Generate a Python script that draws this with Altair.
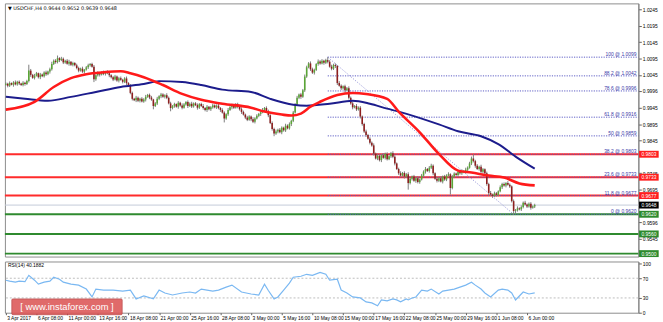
import altair as alt
import pandas as pd

# ---------------- data (prices in pips, 1 pip = 0.0001) ----------------
first_open = 10015
close_pips = [
    10018, 10012, 10020, 10015, 10022, 10016, 10024, 10019, 10014, 10021,
    10017, 10026, 10058, 10045, 10036, 10042, 10050, 10038, 10046, 10041,
    10052, 10047, 10055, 10062, 10078, 10088, 10084, 10096, 10090, 10094,
    10083, 10088, 10079, 10085, 10076, 10081, 10074, 10066, 10058, 10064,
    10055, 10061, 10068, 10074, 10078, 10070, 10032, 10044, 10050, 10046,
    10053, 10048, 10055, 10050, 10044, 10038, 10031, 10040, 10028, 10035,
    10030, 10024, 10034, 10020, 10012, 9990, 9972, 9968, 9975, 9966,
    9972, 9964, 9970, 9978, 9984, 9976, 9970, 9950, 9958, 9972,
    9980, 9985, 9978, 9983, 9975, 9958, 9944, 9950, 9956, 9948,
    9960, 9952, 9945, 9955, 9962, 9950, 9957, 9949, 9958, 9953,
    9945, 9956, 9950, 9944, 9938, 9948, 9940, 9946, 9952, 9946,
    9951, 9944, 9938, 9930, 9912, 9925, 9938, 9946, 9952, 9945,
    9955, 9948, 9940, 9932, 9924, 9915, 9908, 9918, 9910, 9902,
    9912, 9920, 9926, 9931, 9938, 9944, 9935, 9922, 9898, 9880,
    9866, 9872, 9878, 9870, 9884, 9876, 9890, 9882, 9895, 9905,
    9930, 9955, 9975, 9985, 9978, 9998, 10040, 10068, 10080, 10062,
    10052, 10060, 10078, 10086, 10080, 10088, 10082, 10090, 10085, 10070,
    10064, 10075, 10072, 10020, 10012, 10004, 10010, 9998, 10004, 9975,
    9958, 9946, 9950, 9940, 9945, 9918, 9895, 9872, 9862, 9850,
    9838, 9830, 9805, 9790, 9798, 9785, 9800, 9792, 9804, 9788,
    9797, 9806, 9795, 9775, 9758, 9745, 9738, 9746, 9735, 9742,
    9715, 9728, 9735, 9722, 9730, 9718, 9726, 9738, 9750, 9758,
    9752, 9762, 9768, 9745, 9728, 9722, 9730, 9720, 9735, 9726,
    9738, 9742, 9700, 9735, 9744, 9740, 9750, 9745, 9752, 9748,
    9756, 9762, 9775, 9790, 9782, 9768, 9758, 9765, 9750, 9757,
    9745, 9712, 9685, 9680, 9676, 9684, 9679, 9690, 9702, 9712,
    9708, 9715, 9710, 9705, 9660, 9630, 9632, 9638, 9635, 9642,
    9655, 9650, 9644, 9652, 9640, 9644, 9648,
]
upper_wick = [
    4, 3, 5, 2, 4, 6, 3, 4, 2, 5,
    3, 4, 18, 5, 3, 6, 4, 2, 5, 3,
    4, 6, 3, 5, 7, 4, 5, 8, 3, 6,
    4, 3, 5, 6, 2, 4, 3, 5, 4, 3,
    6, 2, 4, 5, 3, 4, 5, 3, 6, 4,
    3, 5, 2, 4, 6, 3, 4, 5, 3, 4,
    5, 3, 4, 6, 3, 5, 4, 3, 6, 4,
    3, 5, 4, 6, 3, 4, 5, 2, 4, 6,
    3, 5, 4, 3, 6, 4, 5, 3, 4, 2,
    5, 3, 6, 4, 3, 5, 4, 6, 3, 4,
    5, 3, 4, 6, 3, 5, 2, 4, 5, 3,
    4, 6, 3, 5, 4, 3, 6, 4, 5, 3,
    4, 5, 3, 6, 4, 3, 5, 4, 3, 6,
    4, 5, 3, 4, 6, 3, 5, 4, 3, 5,
    4, 6, 3, 5, 4, 3, 6, 4, 5, 3,
    5, 4, 6, 3, 5, 4, 6, 5, 4, 6,
    5, 4, 3, 6, 4, 5, 3, 4, 9, 5,
    6, 4, 5, 3, 6, 4, 3, 5, 4, 6,
    4, 5, 3, 6, 4, 5, 3, 4, 6, 3,
    5, 4, 6, 3, 5, 4, 3, 6, 4, 5,
    3, 4, 6, 5, 3, 4, 6, 3, 5, 4,
    6, 4, 3, 5, 4, 6, 3, 5, 4, 6,
    3, 5, 6, 4, 3, 5, 4, 6, 3, 5,
    4, 6, 3, 5, 4, 3, 6, 4, 5, 3,
    6, 4, 5, 6, 13, 4, 5, 3, 6, 4,
    3, 5, 4, 6, 3, 5, 4, 3, 6, 4,
    5, 3, 6, 4, 3, 5, 4, 6, 3, 5,
    4, 6, 3, 4, 5, 3, 4,
]
lower_wick = [
    3, 5, 4, 2, 6, 3, 4, 5, 3, 4,
    5, 3, 4, 6, 3, 5, 2, 4, 6, 3,
    4, 5, 3, 6, 4, 3, 5, 4, 6, 3,
    5, 4, 3, 6, 4, 5, 3, 4, 5, 3,
    4, 6, 3, 5, 4, 3, 9, 5, 4, 6,
    3, 4, 5, 3, 6, 4, 5, 3, 4, 6,
    3, 5, 4, 6, 3, 4, 5, 3, 6, 4,
    5, 3, 4, 6, 3, 5, 4, 10, 3, 5,
    4, 6, 3, 5, 4, 3, 10, 4, 5, 3,
    6, 4, 5, 3, 4, 6, 3, 5, 4, 3,
    6, 4, 3, 5, 4, 6, 3, 5, 4, 3,
    5, 4, 6, 3, 12, 4, 5, 3, 6, 4,
    3, 5, 4, 6, 3, 5, 4, 3, 6, 4,
    5, 3, 4, 6, 3, 5, 4, 6, 3, 5,
    8, 4, 5, 3, 6, 4, 5, 3, 4, 6,
    4, 3, 5, 4, 6, 3, 5, 4, 3, 5,
    4, 6, 3, 5, 4, 3, 6, 4, 5, 3,
    5, 4, 6, 6, 3, 5, 4, 6, 3, 5,
    4, 6, 3, 5, 4, 6, 5, 4, 6, 3,
    5, 4, 6, 3, 5, 4, 6, 3, 5, 4,
    3, 5, 4, 6, 3, 5, 4, 3, 6, 4,
    20, 4, 5, 3, 6, 4, 5, 3, 4, 6,
    3, 5, 4, 6, 3, 5, 4, 3, 6, 4,
    5, 3, 20, 4, 5, 3, 6, 4, 5, 3,
    4, 6, 3, 5, 4, 6, 3, 5, 4, 6,
    3, 5, 8, 4, 6, 3, 5, 4, 3, 5,
    4, 6, 3, 5, 4, 10, 6, 4, 3, 5,
    4, 3, 5, 4, 6, 3, 5,
]

# moving averages (bar index, price)
red_ma_idx = [0, 15, 25, 34, 42, 51, 60, 65, 72, 82, 92, 102, 113, 128, 135, 144, 149,
              154, 159, 164, 173, 181, 188, 199, 205, 216, 226, 236, 243, 252, 260, 268, 276]
red_ma_val = [0.9939, 0.9963, 1.0008, 1.0035, 1.0047, 1.0053, 1.0056, 1.0050, 1.0038,
              1.0014, 0.9987, 0.9969, 0.9957, 0.9945, 0.9933, 0.9924, 0.9921, 0.9927,
              0.9948, 0.9963, 0.9984, 0.9990, 0.9987, 0.9972, 0.9933, 0.9870, 0.9804,
              0.9753, 0.9747, 0.9738, 0.9732, 0.9714, 0.9708]
navy_ma_idx = [0, 10, 22, 34, 47, 60, 72, 80, 92, 102, 113, 128, 138, 150, 157, 169, 181,
               190, 199, 205, 226, 236, 248, 257, 267, 276]
navy_ma_val = [0.9978, 0.9972, 0.9966, 0.9978, 0.9993, 1.0008, 1.0017, 1.0026, 1.0023,
               1.0014, 1.0000, 0.9993, 0.9972, 0.9954, 0.9951, 0.9957, 0.9966, 0.9957,
               0.9942, 0.9933, 0.9894, 0.9873, 0.9858, 0.9834, 0.9792, 0.9759]

# RSI(14)
rsi_idx = [0, 2, 5, 7, 10, 12, 15, 17, 20, 23, 25, 28, 30, 34, 38, 42, 45, 47, 51, 56,
           61, 65, 68, 72, 77, 80, 83, 87, 92, 96, 99, 102, 108, 111, 115, 118, 123, 128,
           132, 135, 137, 140, 142, 145, 148, 150, 154, 157, 160, 164, 167, 169, 173, 175,
           178, 181, 185, 188, 191, 194, 196, 199, 202, 204, 206, 209, 210, 212, 214, 217,
           220, 222, 226, 228, 231, 234, 237, 240, 243, 245, 248, 250, 253, 257, 259, 262,
           264, 266, 268, 270, 273, 276]
rsi_val = [66, 64, 62, 64, 63, 76, 66, 58, 62, 64, 72, 68, 62, 58, 56, 48, 32, 48, 46, 46,
           44, 46, 28, 34, 28, 46, 40, 36, 40, 42, 40, 48, 44, 46, 52, 56, 42, 38, 36, 58,
           45, 28, 32, 46, 60, 72, 74, 78, 76, 82, 78, 66, 68, 46, 40, 32, 30, 22, 20, 14,
           26, 24, 28, 26, 22, 28, 26, 30, 32, 46, 44, 48, 38, 44, 46, 48, 52, 56, 62, 56,
           48, 40, 32, 46, 48, 46, 40, 26, 34, 42, 38, 40.19]

# levels
red_levels = [0.9803, 0.9733, 0.9677]
green_levels = [0.9620, 0.9560, 0.9500]
bid_level = 0.9648
fib_pct = ["100", "88.2", "78.6", "61.8", "50", "38.2", "23.6", "11.8", "0"]
fib_val = [1.0099, 1.0042, 0.9996, 0.9916, 0.9859, 0.9803, 0.9733, 0.9677, 0.9620]
fib_start_idx = 168
trend_idx = [168, 265]
trend_val = [1.0099, 0.9620]

# visible price-scale labels (0.9795 / 0.9645 are hidden behind the level tags)
price_ticks = [1.0245, 1.0195, 1.0145, 1.0095, 1.0045, 0.9996, 0.9945, 0.9895, 0.9845,
               0.9745, 0.9695, 0.9596, 0.9545]
rsi_ticks = [0, 30, 70, 100]
date_tick_idx = [0, 16, 32, 48, 64, 80, 96, 112, 128, 144, 160, 176, 192, 208, 224, 240, 256, 272]
date_tick_lbl = ["3 Apr 2017", "6 Apr 08:00", "11 Apr 00:00", "13 Apr 16:00", "18 Apr 08:00",
                 "21 Apr 00:00", "25 Apr 16:00", "28 Apr 08:00", "3 May 00:00", "5 May 16:00",
                 "10 May 08:00", "15 May 00:00", "17 May 16:00", "22 May 08:00", "25 May 00:00",
                 "29 May 16:00", "1 Jun 08:00", "6 Jun 00:00"]
title_txt = "\u25bc USDCHF,H4  0.9644 0.9652 0.9639 0.9648"
rsi_txt = "RSI(14) 40.1882"
watermark_txt = "[  www.instaforex.com  ]"

assert len(close_pips) == len(upper_wick) == len(lower_wick), (len(close_pips), len(upper_wick), len(lower_wick))

# ---------------- tables ----------------
opens = [first_open] + close_pips[:-1]
rows = []
for i, (o, c, uw, lw) in enumerate(zip(opens, close_pips, upper_wick, lower_wick)):
    rows.append(dict(i=i, o=o / 1e4, c=c / 1e4,
                     h=(max(o, c) + uw) / 1e4, l=(min(o, c) - lw) / 1e4,
                     dir="bull" if c >= o else "bear"))
candles = pd.DataFrame(rows)
red_ma = pd.DataFrame({"i": red_ma_idx, "v": red_ma_val})
navy_ma = pd.DataFrame({"i": navy_ma_idx, "v": navy_ma_val})
rsi_df = pd.DataFrame({"i": rsi_idx, "r": rsi_val})

X0, X1 = -0.46, 330.1
fib_df = pd.DataFrame({"v": fib_val, "lbl": [f"{p} @ {v:.4f}" for p, v in zip(fib_pct, fib_val)]})
fib_df["x0"] = fib_start_idx
fib_df["x1"] = X1
trend_df = pd.DataFrame({"x": [trend_idx[0]], "x2": [trend_idx[1]], "y": [trend_val[0]], "y2": [trend_val[1]]})


def tag_df(vals):
    return pd.DataFrame({"v": vals, "lbl": [f"{v:.4f}" for v in vals]})


FONT = "Liberation Sans"
xs = alt.Scale(domain=[X0, X1], nice=False, zero=False)
ys = alt.Scale(domain=[0.9491, 1.0263], nice=False, zero=False)
rs = alt.Scale(domain=[0, 104], nice=False, zero=False)

yaxis = alt.Axis(orient="right", values=price_ticks, format=".4f", labelFontSize=5,
                 labelColor="#000000", labelFont=FONT, tickSize=3, tickColor="#606060",
                 domainColor="#808080", labelPadding=1, grid=False, title=None,
                 labelOverlap=False)
rsi_axis = alt.Axis(orient="right", values=rsi_ticks, format="d", labelFontSize=5,
                    labelColor="#000000", labelFont=FONT, tickSize=3, tickColor="#606060",
                    domainColor="#808080", labelPadding=1, grid=False, title=None,
                    labelOverlap=False)
lbl_expr = "[" + ",".join(f"'{s}'" for s in date_tick_lbl) + "][round(datum.value/16)]"
xaxis = alt.Axis(values=date_tick_idx, labelExpr=lbl_expr, labelAlign="left", labelFontSize=5,
                 labelColor="#000000", labelFont=FONT, tickSize=2, tickColor="#606060",
                 labelPadding=0.5, domain=False, grid=False, title=None, labelFlush=False,
                 labelOverlap=False, labelOffset=1)

X = lambda f: alt.X(f, scale=xs, axis=None)
Y = lambda f: alt.Y(f, scale=ys, axis=yaxis)

red_rules = alt.Chart(pd.DataFrame({"v": red_levels})).mark_rule(
    color="#ff2b2b", strokeWidth=2).encode(y=Y("v:Q"))
green_rules = alt.Chart(pd.DataFrame({"v": green_levels})).mark_rule(
    color="#2f8a2f", strokeWidth=2).encode(y=Y("v:Q"))
bid_rule = alt.Chart(pd.DataFrame({"v": [bid_level]})).mark_rule(
    color="#c3cad8", strokeWidth=1).encode(y=Y("v:Q"))
fib_rules = alt.Chart(fib_df).mark_rule(color="#5b5bc4", strokeWidth=1, strokeDash=[1.2, 1.3]).encode(
    x=X("x0:Q"), x2="x1:Q", y=Y("v:Q"))
trend = alt.Chart(trend_df).mark_rule(color="#9a9ad8", strokeWidth=1, strokeDash=[1.2, 1.6]).encode(
    x=X("x:Q"), x2="x2:Q", y=Y("y:Q"), y2="y2:Q")
wicks = alt.Chart(candles).mark_rule(color="#7d7d7d", strokeWidth=1).encode(
    x=X("i:Q"), y=Y("l:Q"), y2="h:Q")
bodies = alt.Chart(candles).mark_rule(strokeWidth=1.6).encode(
    x=X("i:Q"), y=Y("o:Q"), y2="c:Q",
    color=alt.Color("dir:N", scale=alt.Scale(domain=["bull", "bear"], range=["#5aa636", "#8e1f1f"]),
                    legend=None))
navy_line = alt.Chart(navy_ma).mark_line(color="#1c1c8c", strokeWidth=2, interpolate="monotone").encode(
    x=X("i:Q"), y=Y("v:Q"))
red_line = alt.Chart(red_ma).mark_line(color="#ff1a1a", strokeWidth=2.6, interpolate="monotone").encode(
    x=X("i:Q"), y=Y("v:Q"))
fib_text = alt.Chart(fib_df).mark_text(align="right", baseline="bottom", fontSize=5, font=FONT,
                                       color="#3a3aa8", dx=-2, dy=0).encode(
    x=X("x1:Q"), y=Y("v:Q"), text="lbl:N")


def tag_layers(vals, fill):
    d = tag_df(vals)
    box = alt.Chart(d).mark_rule(strokeWidth=7, strokeCap="butt", color=fill).encode(
        x=alt.X(datum=X1 + 0.35, scale=xs, axis=None), x2=alt.X2(datum=X1 + 10.6), y=Y("v:Q"))
    txt = alt.Chart(d).mark_text(fontSize=5, font=FONT, color="#ffffff", baseline="middle",
                                 align="center").encode(
        x=alt.X(datum=X1 + 5.5, scale=xs, axis=None), y=Y("v:Q"), text="lbl:N")
    return [box, txt]


tags = tag_layers(red_levels, "#ff1e1e") + tag_layers([bid_level], "#000000") + \
    tag_layers(green_levels, "#2d8a2d")

title = alt.Chart(pd.DataFrame({"t": [title_txt]})).mark_text(
    align="left", baseline="middle", fontSize=5, font="DejaVu Sans", color="#000000").encode(
    text="t:N", x=alt.value(3), y=alt.value(5))

main = alt.layer(red_rules, green_rules, bid_rule, fib_rules, trend, wicks, bodies,
                 navy_line, red_line, fib_text, *tags, title).properties(
    width=643, height=257)

rsi_lv = alt.Chart(pd.DataFrame({"v": [30, 70]})).mark_rule(
    color="#bdbdbd", strokeWidth=1, strokeDash=[2, 2]).encode(
    y=alt.Y("v:Q", scale=rs, axis=rsi_axis))
rsi_line = alt.Chart(rsi_df).mark_line(color="#7ab8f2", strokeWidth=1.2).encode(
    x=alt.X("i:Q", scale=xs, axis=xaxis), y=alt.Y("r:Q", scale=rs, axis=rsi_axis))
rsi_title = alt.Chart(pd.DataFrame({"t": [rsi_txt]})).mark_text(
    align="left", baseline="middle", fontSize=5, font=FONT, color="#000000").encode(
    text="t:N", x=alt.value(3), y=alt.value(4))
wm_box = alt.Chart(pd.DataFrame({"t": [watermark_txt]})).mark_rect(
    color="#dc5656", opacity=0.88, stroke="#b83c3c", strokeWidth=0.8, cornerRadius=1).encode(
    x=alt.value(7), x2=alt.value(119), y=alt.value(38), y2=alt.value(54))
wm_text = alt.Chart(pd.DataFrame({"t": [watermark_txt]})).mark_text(
    align="center", baseline="middle", fontSize=9.5, font=FONT, color="#ffffff").encode(
    text="t:N", x=alt.value(63), y=alt.value(46))

rsi = alt.layer(rsi_lv, rsi_line, rsi_title, wm_box, wm_text).properties(width=643, height=52)

chart = alt.vconcat(main, rsi, spacing=2).properties(
    padding={"left": 0, "top": 0, "right": 0, "bottom": 0}, background="#ffffff"
).configure_view(stroke="#8c8c8c", strokeWidth=1).configure_text(font=FONT)

chart.save("out.html", embed_options={"renderer": "svg", "actions": False})
